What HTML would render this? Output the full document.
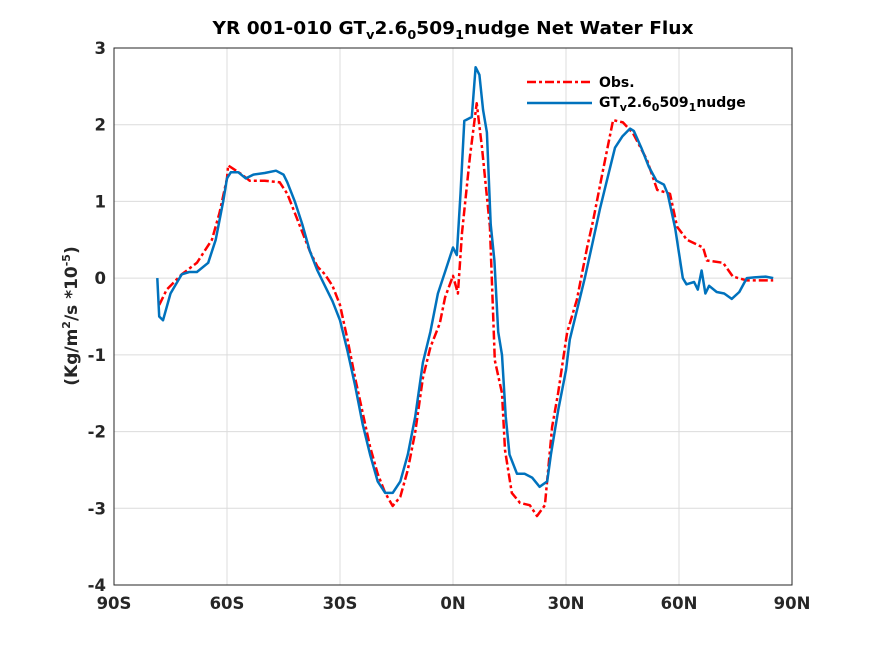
<!DOCTYPE html>
<html><head><meta charset="utf-8">
<style>
body{margin:0;background:#fff;}
svg{display:block;font-family:"DejaVu Sans","Liberation Sans",sans-serif;}
</style></head>
<body>
<svg id="chart" width="875" height="656" viewBox="0 0 875 656" xmlns="http://www.w3.org/2000/svg">
<rect width="875" height="656" fill="#fff"/>
<g id="grid"></g>
<g id="series"></g>
<rect x="114" y="48" width="678" height="537" fill="none" stroke="#262626" stroke-width="1"/>
<g id="ticks"></g>
<text x="453" y="34" text-anchor="middle" font-size="17.5" font-weight="bold" fill="#000" textLength="481" lengthAdjust="spacingAndGlyphs">YR 001-010 GT<tspan font-size="12" dy="5">v</tspan><tspan dy="-5">2.6</tspan><tspan font-size="12" dy="5">0</tspan><tspan dy="-5">509</tspan><tspan font-size="12" dy="5">1</tspan><tspan dy="-5">nudge  Net Water Flux</tspan></text>
<text transform="translate(77,316) rotate(-90)" text-anchor="middle" font-size="17" font-weight="bold" fill="#262626">(Kg/m<tspan font-size="11" dy="-7">2</tspan><tspan dy="7">/s *10</tspan><tspan font-size="11" dy="-7">-5</tspan><tspan dy="7">)</tspan></text>
<g>
<line x1="527" y1="82" x2="592" y2="82" stroke="#ff0000" stroke-width="2.5" stroke-dasharray="9,3,3,3"/>
<text x="599" y="87" font-size="14" font-weight="bold">Obs.</text>
<line x1="527" y1="103" x2="592" y2="103" stroke="#0072bd" stroke-width="2.5"/>
<text x="599" y="107" font-size="14" font-weight="bold">GT<tspan font-size="11" dy="4">v</tspan><tspan dy="-4">2.6</tspan><tspan font-size="11" dy="4">0</tspan><tspan dy="-4">509</tspan><tspan font-size="11" dy="4">1</tspan><tspan dy="-4">nudge</tspan></text>
</g>
</svg>
<script>
const xTickLabels=["90S","60S","30S","0N","30N","60N","90N"];
const xTickValues=[-90,-60,-30,0,30,60,90];
const yTickValues=[-4,-3,-2,-1,0,1,2,3];
const obsLat=[-78,-76,-72,-68,-64,-62,-60,-59.7,-56,-54,-50,-46,-44,-42,-40,-38,-36,-34,-32,-30,-28,-26,-24,-22,-20,-18,-16,-14,-12,-10,-8,-6,-3.5,-2.1,0,1.3,2.4,4.5,6.3,7.7,9.8,11.1,13,13.8,15.6,17.8,20.4,22.3,24.4,26.3,27.9,30.3,32.9,35.6,37.2,39.8,42.5,45.1,47.8,51.5,54.2,57.6,59.5,62.1,66.4,67.4,71.7,74.3,78,85];
const obsVal=[-0.35,-0.15,0.05,0.2,0.5,0.85,1.3,1.47,1.35,1.27,1.27,1.25,1.1,0.85,0.6,0.35,0.15,0.05,-0.1,-0.35,-0.8,-1.3,-1.75,-2.2,-2.55,-2.8,-2.97,-2.85,-2.5,-2.0,-1.3,-0.9,-0.59,-0.25,0.03,-0.2,0.59,1.58,2.28,1.7,0.67,-1.07,-1.5,-2.24,-2.8,-2.93,-2.96,-3.1,-2.96,-1.94,-1.5,-0.71,-0.28,0.4,0.75,1.4,2.06,2.03,1.89,1.54,1.15,1.1,0.67,0.5,0.4,0.23,0.2,0.02,-0.03,-0.03];
const modLat=[-78.5,-78,-77,-75,-72,-70,-68,-65,-63,-61,-60,-59,-57,-55,-53,-50,-47,-45,-44,-42,-40,-38,-36,-34,-32,-30,-28,-26,-24,-22,-20,-18,-16,-14,-12,-10,-8,-6,-4,-2,0,1,2,3,5,6,7,8,9,10,11,12,13,14,15,17,19,21,23,25,26,27,28,30,31,33,35,37,39,41,43,45,47,48,50,52,54,56,57,59,61,62,64,65,66,67,68,70,72,74,76,78,80,83,85];
const modVal=[0,-0.5,-0.55,-0.2,0.05,0.08,0.08,0.2,0.5,1.0,1.3,1.38,1.38,1.3,1.35,1.37,1.4,1.35,1.25,1.0,0.7,0.35,0.1,-0.1,-0.3,-0.55,-0.95,-1.4,-1.9,-2.3,-2.65,-2.8,-2.8,-2.65,-2.3,-1.8,-1.1,-0.7,-0.2,0.1,0.4,0.3,1.1,2.05,2.1,2.75,2.65,2.19,1.9,0.7,0.23,-0.7,-1.0,-1.8,-2.3,-2.55,-2.55,-2.6,-2.72,-2.65,-2.3,-2.0,-1.7,-1.2,-0.8,-0.4,0.0,0.45,0.9,1.3,1.7,1.85,1.95,1.92,1.7,1.45,1.27,1.22,1.1,0.65,0.0,-0.08,-0.05,-0.15,0.1,-0.2,-0.1,-0.18,-0.2,-0.27,-0.18,0.0,0.01,0.02,0.0];
const X0=114,X1=792,Y0=585,Y1=48;
function sx(v){return X0+(v+90)/180*(X1-X0);}
function sy(v){return Y0-(v+4)/7*(Y0-Y1);}
const NS="http://www.w3.org/2000/svg";
const grid=document.getElementById('grid'),ticks=document.getElementById('ticks'),series=document.getElementById('series');
function mk(t,a){const e=document.createElementNS(NS,t);for(const k in a)e.setAttribute(k,a[k]);return e;}
xTickValues.forEach((v,i)=>{
 const x=sx(v);
 const g=mk('line',{x1:x,x2:x,y1:Y1,y2:Y0,stroke:'#dcdcdc','stroke-width':1});
 
 
 grid.appendChild(g);
 const t=mk('text',{x:x,y:609,'text-anchor':'middle','font-size':16.5,'font-weight':'bold',fill:'#262626'});
 
 
 t.textContent=xTickLabels[i];ticks.appendChild(t);
});
yTickValues.forEach(v=>{
 const y=sy(v);
 const g=mk('line',{x1:X0,x2:X1,y1:y,y2:y,stroke:'#dcdcdc','stroke-width':1});
 
 
 grid.appendChild(g);
 const t=mk('text',{x:106,y:y+6,'text-anchor':'end','font-size':16.5,'font-weight':'bold',fill:'#262626'});
 
 
 t.textContent=String(v);ticks.appendChild(t);
});
function path(lat,val){return lat.map((l,i)=>(i?'L':'M')+sx(l).toFixed(1)+','+sy(val[i]).toFixed(1)).join(' ');}
const po=mk('path',{d:path(obsLat,obsVal),fill:'none',stroke:'#ff0000','stroke-width':2.5,'stroke-dasharray':'9,3,3,3','stroke-linejoin':'round'});


series.appendChild(po);
const pm=mk('path',{d:path(modLat,modVal),fill:'none',stroke:'#0072bd','stroke-width':2.5,'stroke-linejoin':'round'});


series.appendChild(pm);
</script>
</body></html>
